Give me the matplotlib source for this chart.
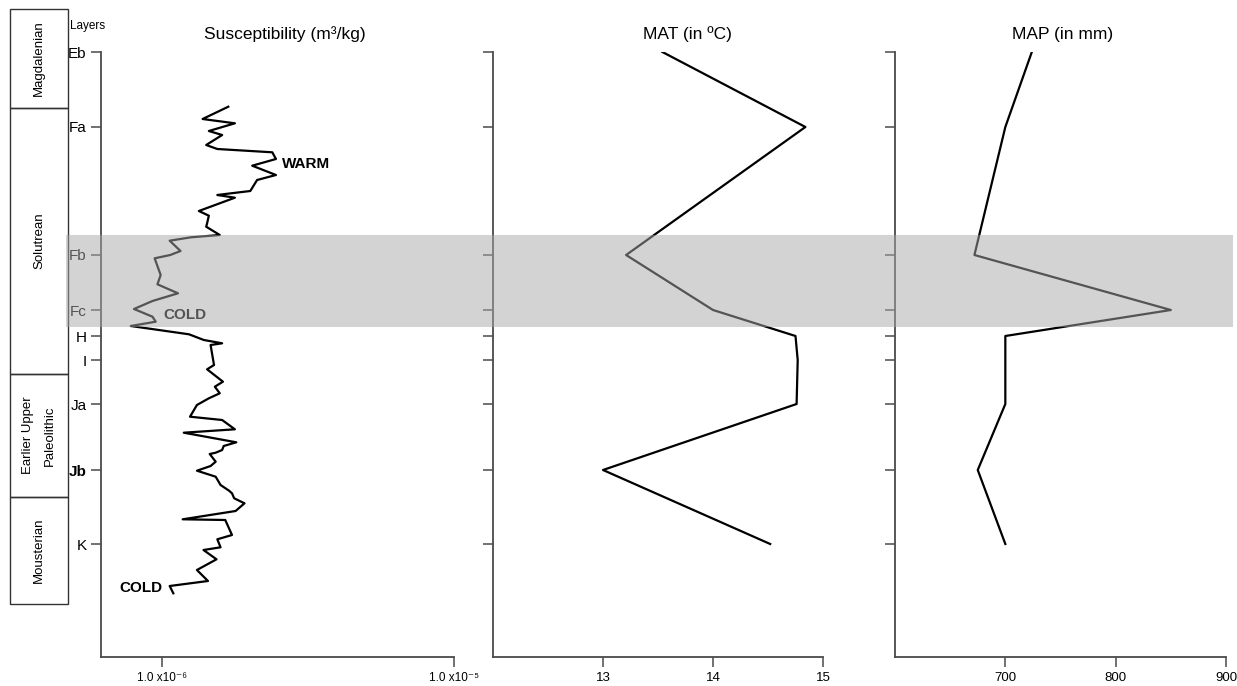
"""Stratigraphic column: magnetic susceptibility, MAT and MAP by layer."""
import matplotlib
matplotlib.use("Agg")
import matplotlib.pyplot as plt
from matplotlib.patches import Rectangle
from matplotlib.ticker import NullLocator

plt.rcParams["font.family"] = ["Liberation Sans", "DejaVu Sans"]

# layers (depth below Eb, arbitrary units)
layers = ["Eb", "Fa", "Fb", "Fc", "H", "I", "Ja", "Jb", "K"]
layer_depth = [0, 75, 203, 258, 284, 308, 352, 418, 492]
depth_bottom = 605
cold_band = (183, 275)

# cultural periods: (name, top, bottom) in depth units
periods = ["Magdalenian", "Solutrean", "Earlier Upper\nPaleolithic", "Mousterian"]
period_top = [-43, 56, 322, 445]
period_bottom = [56, 322, 445, 552]

# magnetic susceptibility (x 1e-6 m3/kg) vs depth
sus_depth = [54.7, 67, 71.3, 79, 83, 93, 97, 100.3, 107, 113.7, 123, 128, 139, 142,
             143, 145.7, 159, 163.7, 171.3, 174.7, 183, 185.3, 188.7, 199, 203, 206.3,
             223, 232.3, 241.3, 249, 257, 264.7, 269.7, 274, 282.3, 288, 291.3, 293,
             313, 317.3, 329.7, 334.7, 341.3, 346.3, 353, 364.7, 368, 377.3, 380.7,
             390.3, 394, 398, 400.7, 402, 409.7, 414, 418.7, 424.7, 433, 438.7, 441.3,
             446.3, 451.3, 459, 467.3, 468, 483, 487.3, 495.3, 498, 507.3, 518, 529,
             534, 541.3]
sus_value = [1.69, 1.38, 1.78, 1.45, 1.61, 1.42, 1.55, 2.39, 2.46, 2.04, 2.46, 2.12,
             2.01, 1.65, 1.55, 1.78, 1.34, 1.45, 1.43, 1.42, 1.58, 1.26, 1.065, 1.16,
             1.07, 0.946, 0.992, 0.967, 1.137, 0.93, 0.804, 0.93, 0.954, 0.784, 1.24,
             1.394, 1.61, 1.47, 1.51, 1.43, 1.62, 1.52, 1.58, 1.45, 1.32, 1.25, 1.61,
             1.78, 1.19, 1.80, 1.63, 1.61, 1.53, 1.46, 1.53, 1.47, 1.32, 1.53, 1.59,
             1.70, 1.74, 1.77, 1.92, 1.79, 1.18, 1.65, 1.74, 1.55, 1.59, 1.39, 1.54,
             1.32, 1.44, 1.065, 1.096]

# mean annual temperature / precipitation per layer
mat = [13.54, 14.84, 13.21, 14.0, 14.75, 14.77, 14.76, 13.0, 14.52]
map_mm = [724, 700, 672, 850, 700, 700, 700, 675, 700]

W, H = 1237, 686
fig = plt.figure(figsize=(W / 100, H / 100), dpi=100, facecolor="white")

def px(x0, y0, x1, y1):
    return [x0 / W, 1 - y1 / H, (x1 - x0) / W, (y1 - y0) / H]

SPINE = "#4a4a4a"
ax1 = fig.add_axes(px(101, 52, 454, 657))
ax2 = fig.add_axes(px(493, 52, 823, 657))
ax3 = fig.add_axes(px(895, 52, 1226, 657))

for ax in (ax1, ax2, ax3):
    ax.set_facecolor("none")
    ax.set_ylim(depth_bottom, 0)
    ax.set_yticks(layer_depth)
    ax.spines[["top", "right"]].set_visible(False)
    for s in ("left", "bottom"):
        ax.spines[s].set_color(SPINE)
        ax.spines[s].set_linewidth(1.3)
    ax.tick_params(axis="both", direction="out", length=7, width=1.1, color=SPINE,
                   labelsize=9.5)

ax1.set_yticklabels(layers, fontsize=11)
ax1.get_yticklabels()[layers.index("Jb")].set_fontweight("bold")
ax2.set_yticklabels([])
ax3.set_yticklabels([])

# susceptibility (log scale)
ax1.plot([v * 1e-6 for v in sus_value], sus_depth, color="black", lw=1.6)
ax1.set_xscale("log")
ax1.set_xlim(6.2e-7, 1e-5)
ax1.set_xticks([1e-6, 1e-5], ["1.0 x10⁻⁶", "1.0 x10⁻⁵"], fontsize=8.5)
ax1.xaxis.set_minor_locator(NullLocator())
ax1.text(0.52, 1.016, "Susceptibility (m³/kg)", transform=ax1.transAxes,
         ha="center", va="bottom", fontsize=12.5)
ax1.text(2.57e-6, 112, "WARM", fontsize=11, weight="bold", va="center")
ax1.text(1.01e-6, 263, "COLD", fontsize=11, weight="bold", va="center")
ax1.text(0.85e-6, 536, "COLD", fontsize=11, weight="bold", va="center", ha="center")

ax2.plot(mat, layer_depth, color="black", lw=1.6)
ax2.set_xlim(12, 15)
ax2.set_xticks([13, 14, 15])
ax2.text(0.59, 1.016, "MAT (in ºC)", transform=ax2.transAxes,
         ha="center", va="bottom", fontsize=12.5)

ax3.plot(map_mm, layer_depth, color="black", lw=1.6)
ax3.set_xlim(600, 900)
ax3.set_xticks([700, 800, 900])
ax3.text(0.505, 1.016, "MAP (in mm)", transform=ax3.transAxes,
         ha="center", va="bottom", fontsize=12.5)

fig.text(70 / W, 1 - 26 / H, "Layers", fontsize=8.5, va="center", ha="left")

# period column on the left, placed with ax1's depth scale
to_fig = lambda d: fig.transFigure.inverted().transform(ax1.transData.transform((1e-6, d)))[1]
for name, top, bot in zip(periods, period_top, period_bottom):
    y_top, y_bot = to_fig(top), to_fig(bot)
    fig.patches.append(Rectangle((10 / W, y_bot), 58 / W, y_top - y_bot,
                                 transform=fig.transFigure, fill=False,
                                 edgecolor="#333333", lw=1.0))
    fig.text(39 / W, (y_top + y_bot) / 2, name, rotation=90, ha="center",
             va="center", fontsize=9.5, linespacing=2.0)

# translucent cold band across all panels
yb_top, yb_bot = to_fig(cold_band[0]), to_fig(cold_band[1])
fig.patches.append(Rectangle((66 / W, yb_bot), (1233 - 66) / W, yb_top - yb_bot,
                             transform=fig.transFigure, facecolor="#a8a8a8",
                             edgecolor="none", alpha=0.5, zorder=10))

fig.savefig("out.png", dpi=100, facecolor="white")
